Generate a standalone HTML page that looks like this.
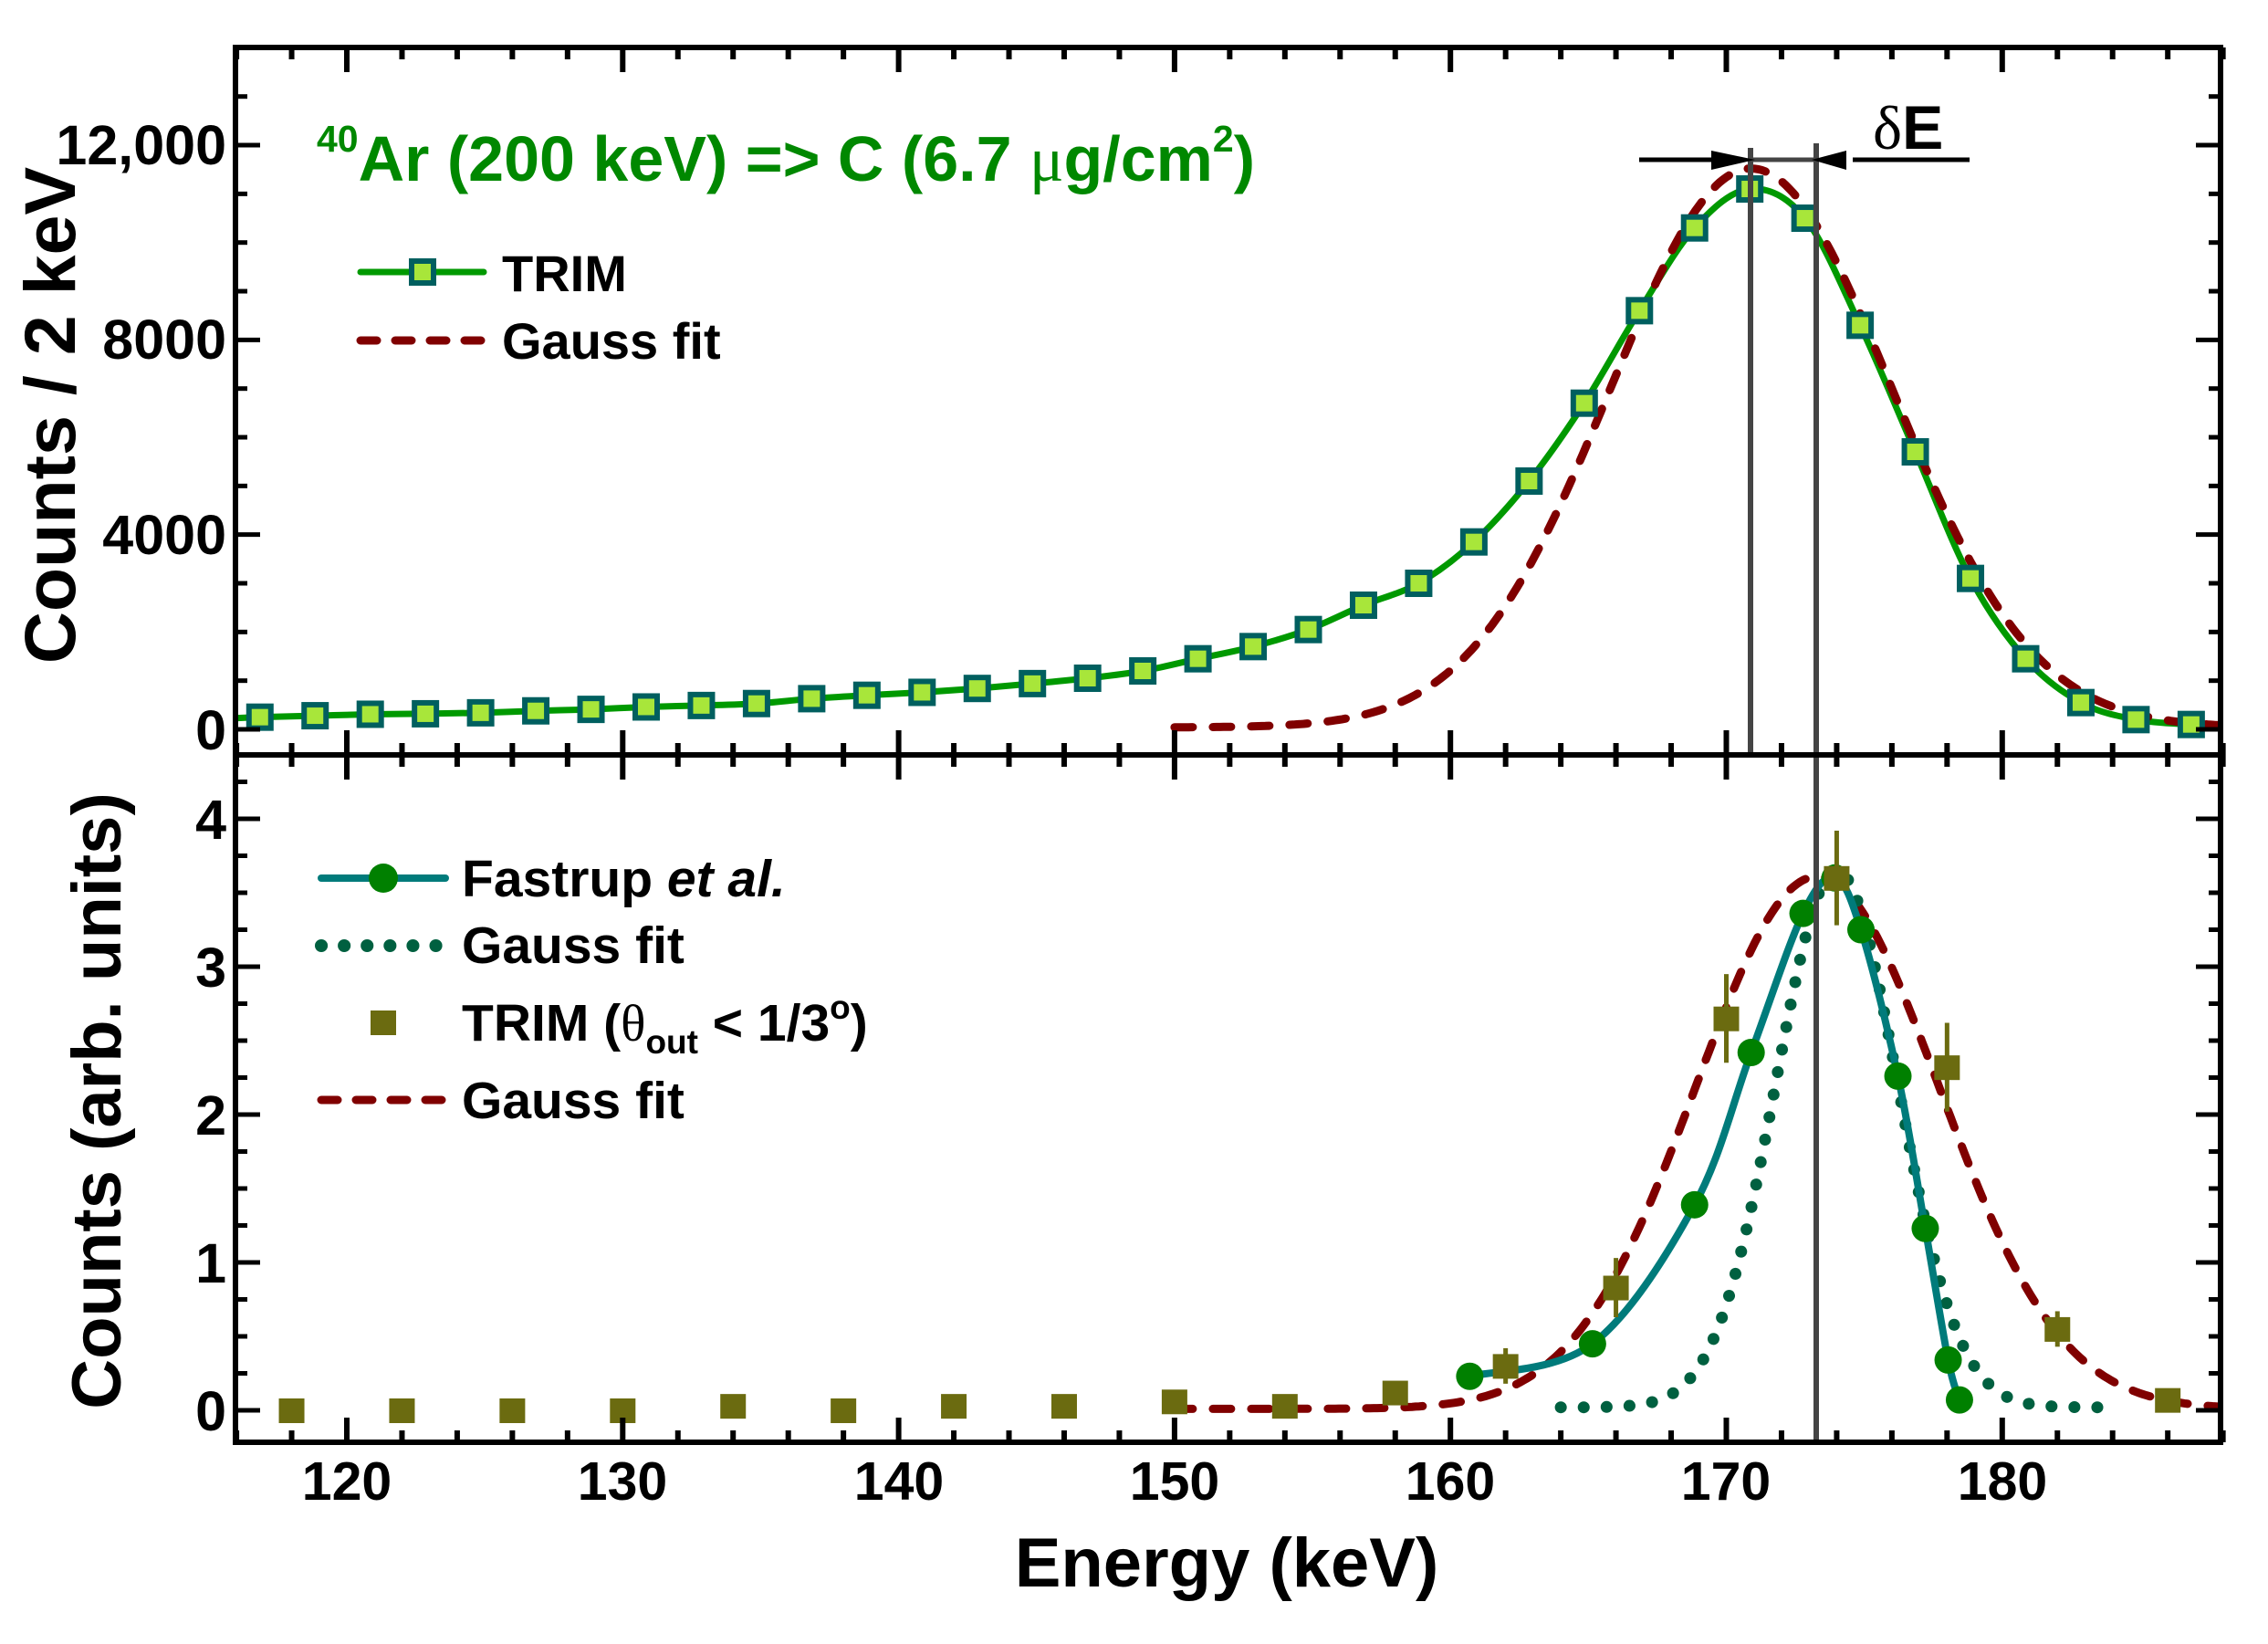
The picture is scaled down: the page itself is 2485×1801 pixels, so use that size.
<!DOCTYPE html>
<html><head><meta charset="utf-8"><style>
html,body{margin:0;padding:0;background:#fff}
svg{display:block}
text{font-family:"Liberation Sans",Arial,sans-serif;font-weight:bold}
</style></head><body>
<svg id="s" width="2485" height="1801" viewBox="0 0 2485 1801" xmlns="http://www.w3.org/2000/svg">
<g id="plot"></g>
<g font-size="61" text-anchor="end">
<text x="248" y="180">12,000</text>
<text x="248" y="393">8000</text>
<text x="248" y="607">4000</text>
<text x="248" y="821">0</text>
<text x="248" y="919">4</text>
<text x="248" y="1081">3</text>
<text x="248" y="1243">2</text>
<text x="248" y="1405">1</text>
<text x="248" y="1567">0</text>
</g>
<g font-size="59" text-anchor="middle">
<text x="380" y="1643">120</text>
<text x="682" y="1643">130</text>
<text x="985" y="1643">140</text>
<text x="1287" y="1643">150</text>
<text x="1589" y="1643">160</text>
<text x="1891" y="1643">170</text>
<text x="2194" y="1643">180</text>
</g>
<text x="1344" y="1738" font-size="76" text-anchor="middle">Energy (keV)</text>
<text transform="translate(82,455) rotate(-90)" font-size="79" text-anchor="middle">Counts / 2 keV</text>
<text transform="translate(132,1206) rotate(-90)" font-size="76" text-anchor="middle">Counts (arb. units)</text>
<text x="347" y="198" font-size="70" fill="#008800"><tspan font-size="41" dy="-32">40</tspan><tspan dy="32">Ar (200 keV) =&gt; C (6.7 </tspan><tspan font-family="Liberation Serif,serif" font-weight="normal">μ</tspan><tspan>g/cm</tspan><tspan font-size="41" dy="-32">2</tspan><tspan dy="32">)</tspan></text>
<line x1="395" y1="298" x2="530" y2="298" stroke="#009900" stroke-width="7" stroke-linecap="round"/>
<rect x="451" y="286" width="24" height="24" fill="#a8e63a" stroke="#005f5f" stroke-width="6"/>
<text x="550" y="319" font-size="56">TRIM</text>
<line x1="395" y1="373" x2="530" y2="373" stroke="#800000" stroke-width="9" stroke-dasharray="18,20" stroke-linecap="round"/>
<text x="550" y="393" font-size="56">Gauss fit</text>
<line x1="352" y1="962" x2="488" y2="962" stroke="#007b7b" stroke-width="8" stroke-linecap="round"/>
<ellipse cx="420" cy="962" rx="16" ry="16" fill="#008000"/>
<text x="506" y="982" font-size="57">Fastrup <tspan font-style="italic">et al.</tspan></text>
<line x1="352" y1="1036" x2="488" y2="1036" stroke="#006040" stroke-width="14" stroke-dasharray="0.1,25" stroke-linecap="round"/>
<text x="506" y="1055" font-size="57">Gauss fit</text>
<rect x="406" y="1107" width="28" height="27" fill="#6b6b10"/>
<text x="506" y="1140" font-size="57">TRIM (<tspan font-family="Liberation Serif,serif" font-weight="normal">θ</tspan><tspan font-size="37" dy="14">out</tspan><tspan dy="-14"> &lt; 1/3</tspan><tspan font-size="37" dy="-24">o</tspan><tspan dy="24">)</tspan></text>
<line x1="352" y1="1205" x2="488" y2="1205" stroke="#800000" stroke-width="9" stroke-dasharray="18,20" stroke-linecap="round"/>
<text x="506" y="1225" font-size="57">Gauss fit</text>
<text x="2052" y="163" font-size="68"><tspan font-family="Liberation Serif,serif" font-weight="normal">δ</tspan>E</text>
</svg>
<script>
(function(){
var NS="http://www.w3.org/2000/svg",g=document.getElementById("plot");
function X(E){return 380+(E-120)*30.23;}
function YT(c){return 799-c*0.05333;}
function YB(v){return 1545-v*162;}
function el(t,a){var e=document.createElementNS(NS,t);for(var k in a)e.setAttribute(k,a[k]);g.appendChild(e);return e;}
function pts(f,a,b,n,Y){var s=[];for(var i=0;i<=n;i++){var E=a+(b-a)*i/n;s.push(X(E).toFixed(1)+","+Y(f(E)).toFixed(1));}return s.join(" ");}
function cr(P){
 var d="M"+P[0][0]+","+P[0][1];
 for(var i=0;i<P.length-1;i++){var p0=P[i-1]||P[i],p1=P[i],p2=P[i+1],p3=P[i+2]||P[i+1];
  d+=" C"+(p1[0]+(p2[0]-p0[0])/6)+","+(p1[1]+(p2[1]-p0[1])/6)+" "+(p2[0]-(p3[0]-p1[0])/6)+","+(p2[1]-(p3[1]-p1[1])/6)+" "+p2[0]+","+p2[1];}
 return d;}
var cp=el("clipPath",{id:"ct"});var r=document.createElementNS(NS,"rect");r.setAttribute("x",258);r.setAttribute("y",52);r.setAttribute("width",2175);r.setAttribute("height",775);cp.appendChild(r);
var cp2=el("clipPath",{id:"cb"});r=document.createElementNS(NS,"rect");r.setAttribute("x",258);r.setAttribute("y",827);r.setAttribute("width",2175);r.setAttribute("height",753);cp2.appendChild(r);
var tv=[250,280,310,320,340,380,410,460,490,530,630,700,760,840,940,1050,1200,1450,1700,2050,2550,3000,3850,5100,6700,8600,10300,11100,10500,8300,5700,3100,1450,550,200,100];
var P=[[X(116),YT(230)]];
for(var i=0;i<tv.length;i++)P.push([X(116.85+2*i),YT(tv[i])]);
P.push([X(188),YT(80)]);
var gt=el("g",{"clip-path":"url(#ct)"});
function add(p,t,a){var e=document.createElementNS(NS,t);for(var k in a)e.setAttribute(k,a[k]);p.appendChild(e);return e;}
add(gt,"path",{d:cr(P),fill:"none",stroke:"#009900","stroke-width":7});
add(gt,"polyline",{points:pts(function(E){return 40+11480*Math.exp(-Math.pow(E-170.9,2)/(2*5.1*5.1));},150,188,300,YT),fill:"none",stroke:"#800000","stroke-width":9,"stroke-dasharray":"20,22","stroke-linecap":"round"});
for(i=0;i<tv.length;i++){add(gt,"rect",{x:X(116.85+2*i)-12,y:YT(tv[i])-12,width:24,height:24,fill:"#a8e63a",stroke:"#005f5f","stroke-width":6});}
var gb=el("g",{"clip-path":"url(#cb)"});
add(gb,"polyline",{points:pts(function(E){return 0.01+3.6*Math.exp(-Math.pow(E-173.3,2)/(2*4.4*4.4));},150,188,300,YB),fill:"none",stroke:"#800000","stroke-width":9,"stroke-dasharray":"20,22","stroke-linecap":"round"});
add(gb,"polyline",{points:pts(function(E){return 0.02+3.63*Math.exp(-Math.pow(E-174.0,2)/(2*2.2*2.2));},164,184,400,YB),fill:"none",stroke:"#006040","stroke-width":13,"stroke-dasharray":"0.1,25","stroke-linecap":"round"});
var fd=[[160.7,0.23],[165.15,0.45],[168.85,1.39],[170.9,2.42],[172.78,3.36],[173.94,3.6],[174.88,3.25],[176.22,2.26],[177.21,1.23],[178.04,0.34],[178.45,0.07]];
var FP=fd.map(function(p){return [X(p[0]),YB(p[1])];});
add(gb,"path",{d:cr(FP),fill:"none",stroke:"#007b7b","stroke-width":8});
fd.forEach(function(p){add(gb,"circle",{cx:X(p[0]),cy:YB(p[1]),r:15,fill:"#008000"});});
var td=[[118,0,0],[122,0,0],[126,0,0],[130,0,0],[134,0.03,0],[138,0,0],[142,0.03,0],[146,0.03,0],[150,0.06,0],[154,0.03,0],[158,0.12,0],[162,0.3,0.12],[166,0.83,0.2],[170,2.65,0.3],[174,3.6,0.32],[178,2.32,0.3],[182,0.55,0.12],[186,0.07,0]];
td.forEach(function(p){if(p[2])add(gb,"line",{x1:X(p[0]),x2:X(p[0]),y1:YB(p[1]-p[2]),y2:YB(p[1]+p[2]),stroke:"#6b6b10","stroke-width":5});
 add(gb,"rect",{x:X(p[0])-14,y:YB(p[1])-13,width:28,height:27,fill:"#6b6b10"});});
el("line",{x1:1918,x2:1918,y1:162,y2:827,stroke:"#444","stroke-width":6});
el("line",{x1:1990,x2:1990,y1:157,y2:1580,stroke:"#444","stroke-width":6});
el("line",{x1:1918,x2:1990,y1:175,y2:175,stroke:"#444","stroke-width":5});
el("line",{x1:1796,x2:1880,y1:175,y2:175,stroke:"#000","stroke-width":5});
el("polygon",{points:"1875,165 1923,175 1875,186",fill:"#000"});
el("line",{x1:2030,x2:2158,y1:175,y2:175,stroke:"#000","stroke-width":5});
el("polygon",{points:"2023,165 1985,175 2023,186",fill:"#000"});
el("rect",{x:258,y:52,width:2175,height:775,fill:"none",stroke:"#000","stroke-width":6});
el("rect",{x:258,y:827,width:2175,height:753,fill:"none",stroke:"#000","stroke-width":6});
for(var E=116;E<=188;E+=2){var x=X(E),L=(E%10==0)?27:13;
 [[52,1],[827,-1],[827,1],[1580,-1]].forEach(function(q){el("line",{x1:x,x2:x,y1:q[0],y2:q[0]+q[1]*L,stroke:"#000","stroke-width":6});});}
for(var c=0;c<=13000;c+=1000){var y=YT(c),L=(c%4000==0)?27:13;
 el("line",{x1:258,x2:258+L,y1:y,y2:y,stroke:"#000","stroke-width":5});
 el("line",{x1:2433,x2:2433-L,y1:y,y2:y,stroke:"#000","stroke-width":5});}
for(var k=0;k<=17;k++){var v=k*0.25,y=YB(v),L=(k%4==0)?27:13;
 el("line",{x1:258,x2:258+L,y1:y,y2:y,stroke:"#000","stroke-width":5});
 el("line",{x1:2433,x2:2433-L,y1:y,y2:y,stroke:"#000","stroke-width":5});}
})();
</script>
</body></html>
